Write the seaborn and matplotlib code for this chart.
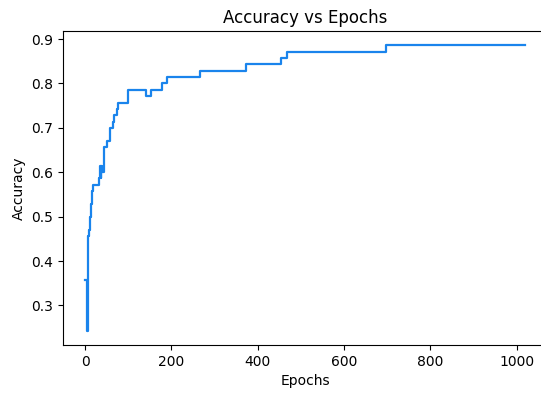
import matplotlib
matplotlib.use("Agg")
import matplotlib.pyplot as plt
import seaborn as sns
import pandas as pd

# Step points (epoch where accuracy changes, new accuracy)
epochs = [0, 5, 8, 10, 12, 14, 16, 19, 32, 34, 36, 38, 40, 43, 52, 59, 65, 68, 73, 77,
          99, 142, 152, 179, 190, 266, 372, 453, 467, 698, 1019]
accuracy = [0.357, 0.243, 0.457, 0.471, 0.500, 0.529, 0.557, 0.571, 0.586, 0.614, 0.586,
            0.614, 0.600, 0.657, 0.671, 0.700, 0.714, 0.729, 0.743, 0.757,
            0.786, 0.771, 0.786, 0.800, 0.814, 0.829, 0.843, 0.857, 0.871, 0.886, 0.886]

title = "Accuracy vs Epochs"
xlabel = "Epochs"
ylabel = "Accuracy"

df = pd.DataFrame({"Epochs": epochs, "Accuracy": accuracy})

fig = plt.figure(figsize=(5.41, 3.94), dpi=100)
ax = fig.add_axes([63 / 541, 49 / 394, (547 - 63) / 541, (345 - 31) / 394])
sns.lineplot(data=df, x="Epochs", y="Accuracy", ax=ax, color="#1a84ec",
             linewidth=1.6, drawstyle="steps-post")
ax.spines["right"].set_visible(False)
ax.set_title(title, fontsize=12)
ax.set_xlabel(xlabel, fontsize=10)
ax.set_ylabel(ylabel, fontsize=10)
ax.set_xticks([0, 200, 400, 600, 800, 1000])
ax.set_yticks([0.3, 0.4, 0.5, 0.6, 0.7, 0.8, 0.9])
ax.tick_params(labelsize=10)
fig.savefig("out.png", dpi=100)
